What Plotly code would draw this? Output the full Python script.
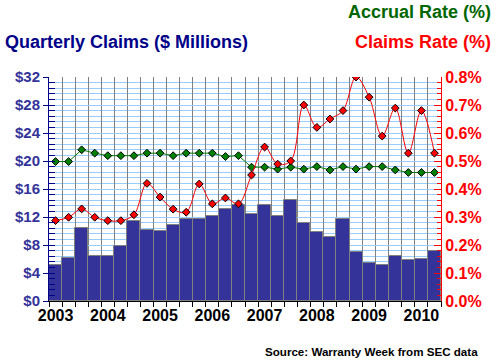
import plotly.graph_objects as go

quarters = [f"{y} Q{q}" for y in range(2003, 2011) for q in range(1, 5)][:30]
year_labels = [q[:4] if q.endswith("Q1") else "" for q in quarters]

claims_musd = [5.2, 6.2, 10.5, 6.4, 6.5, 7.8, 11.4, 10.1, 10.0, 10.9,
               11.7, 11.7, 12.1, 13.2, 13.7, 12.4, 13.7, 12.1, 14.5, 11.2,
               9.8, 9.1, 11.7, 7.0, 5.5, 5.2, 6.5, 5.8, 6.0, 7.2]
claims_rate = [0.287, 0.299, 0.329, 0.299, 0.287, 0.287, 0.308, 0.420, 0.371, 0.328,
               0.317, 0.418, 0.347, 0.368, 0.347, 0.450, 0.550, 0.489, 0.500, 0.700,
               0.620, 0.650, 0.680, 0.800, 0.728, 0.589, 0.689, 0.528, 0.680, 0.528]
accrual_rate = [0.498, 0.498, 0.540, 0.528, 0.519, 0.519, 0.519, 0.528, 0.528, 0.519,
                0.528, 0.528, 0.528, 0.516, 0.519, 0.478, 0.478, 0.471, 0.478, 0.471,
                0.480, 0.468, 0.480, 0.471, 0.480, 0.480, 0.468, 0.459, 0.459, 0.459]
left_ticks = [0, 4, 8, 12, 16, 20, 24, 28, 32]
left_ticktext = [f"${v}" for v in left_ticks]
right_ticks = [0.0, 0.1, 0.2, 0.3, 0.4, 0.5, 0.6, 0.7, 0.8]
right_ticktext = [f"{v:.1f}%" for v in right_ticks]

FONT = "Liberation Sans, Arial, sans-serif"
NAVY = "#000088"
BLUE = "#333399"
RED = "#FF0000"
GREEN = "#006600"

fig = go.Figure()
fig.add_trace(go.Bar(x=quarters, y=claims_musd, marker=dict(color=BLUE, line=dict(color="#808080", width=1)),
                     yaxis="y", showlegend=False))
fig.add_trace(go.Scatter(x=quarters, y=accrual_rate, yaxis="y2", mode="lines+markers",
                         line=dict(color="#008000", width=1),
                         marker=dict(symbol="diamond", size=6, color="#008000", line=dict(color="black", width=1)),
                         showlegend=False))
fig.add_trace(go.Scatter(x=quarters, y=claims_rate, yaxis="y2", mode="lines+markers",
                         line=dict(color=RED, width=1, shape="spline", smoothing=1),
                         marker=dict(symbol="diamond", size=6, color=RED, line=dict(color="black", width=1)),
                         showlegend=False))
fig.add_trace(go.Scatter(x=[quarters[0]], y=[0], yaxis="y3", mode="markers", marker=dict(opacity=0),
                         showlegend=False, hoverinfo="skip"))

fig.update_layout(
    width=497, height=363,
    margin=dict(l=49, r=56, t=77, b=62, autoexpand=False),
    paper_bgcolor="white", plot_bgcolor="white",
    bargap=0,
    xaxis=dict(type="category", range=[-0.5, len(quarters) - 0.5], tickmode="array",
               tickvals=quarters, ticktext=year_labels,
               tickson="boundaries", ticks="outside", ticklen=5, tickcolor="black", tickangle=0,
               showgrid=True, gridcolor="#808080", gridwidth=1, automargin=False,
               showline=True, linecolor="black", linewidth=1,
               tickfont=dict(family=FONT, size=16, color="black", weight="bold"),
               fixedrange=True),
    yaxis=dict(range=[0, 32], tickmode="array", tickvals=left_ticks, ticktext=left_ticktext,
               ticks="outside", ticklen=5, tickcolor=NAVY, showline=True, linecolor=NAVY, linewidth=1,
               showgrid=True, gridcolor="#99CCFF", gridwidth=1, zeroline=False, automargin=False,
               minor=dict(dtick=0.8, tick0=0, showgrid=True, gridcolor="#99CCFF", gridwidth=1, ticks=""),
               tickfont=dict(family=FONT, size=15, color=BLUE, weight="bold")),
    yaxis3=dict(range=[0, 32], overlaying="y", side="left", anchor="x", tickmode="linear", tick0=0, dtick=0.8,
                ticks="inside", ticklen=6, tickcolor=NAVY, showticklabels=False, showgrid=False,
                zeroline=False, showline=False, automargin=False),
    yaxis2=dict(range=[0, 0.8], overlaying="y", side="right", anchor="x", tickmode="array",
                tickvals=right_ticks, ticktext=right_ticktext, automargin=False,
                ticks="inside", ticklen=7, tickcolor=RED, showline=True, linecolor=RED, linewidth=1,
                showgrid=False, zeroline=False,
                minor=dict(dtick=0.02, tick0=0, ticks="inside", ticklen=4, tickcolor=RED, showgrid=False),
                tickfont=dict(family=FONT, size=16, color=RED, weight="bold")),
    annotations=[
        dict(text="<b>Quarterly Claims ($ Millions)</b>", xref="paper", yref="paper", x=-0.117, y=1.156,
             xanchor="left", yanchor="middle", showarrow=False, font=dict(family=FONT, size=18, color=NAVY)),
        dict(text="<b>Accrual Rate (%)</b>", xref="paper", yref="paper", x=1.132, y=1.29,
             xanchor="right", yanchor="middle", showarrow=False, font=dict(family=FONT, size=18, color=GREEN)),
        dict(text="<b>Claims Rate (%)</b>", xref="paper", yref="paper", x=1.132, y=1.156,
             xanchor="right", yanchor="middle", showarrow=False, font=dict(family=FONT, size=18, color=RED)),
        dict(text="<b>Source: Warranty Week from SEC data</b>", xref="paper", yref="paper", x=1.0995, y=-0.2254,
             xanchor="right", yanchor="middle", showarrow=False, font=dict(family=FONT, size=11.6, color="black")),
    ],
)

fig.write_html("out.html", config={"displayModeBar": False},
               post_script="document.body.style.margin='0';")
